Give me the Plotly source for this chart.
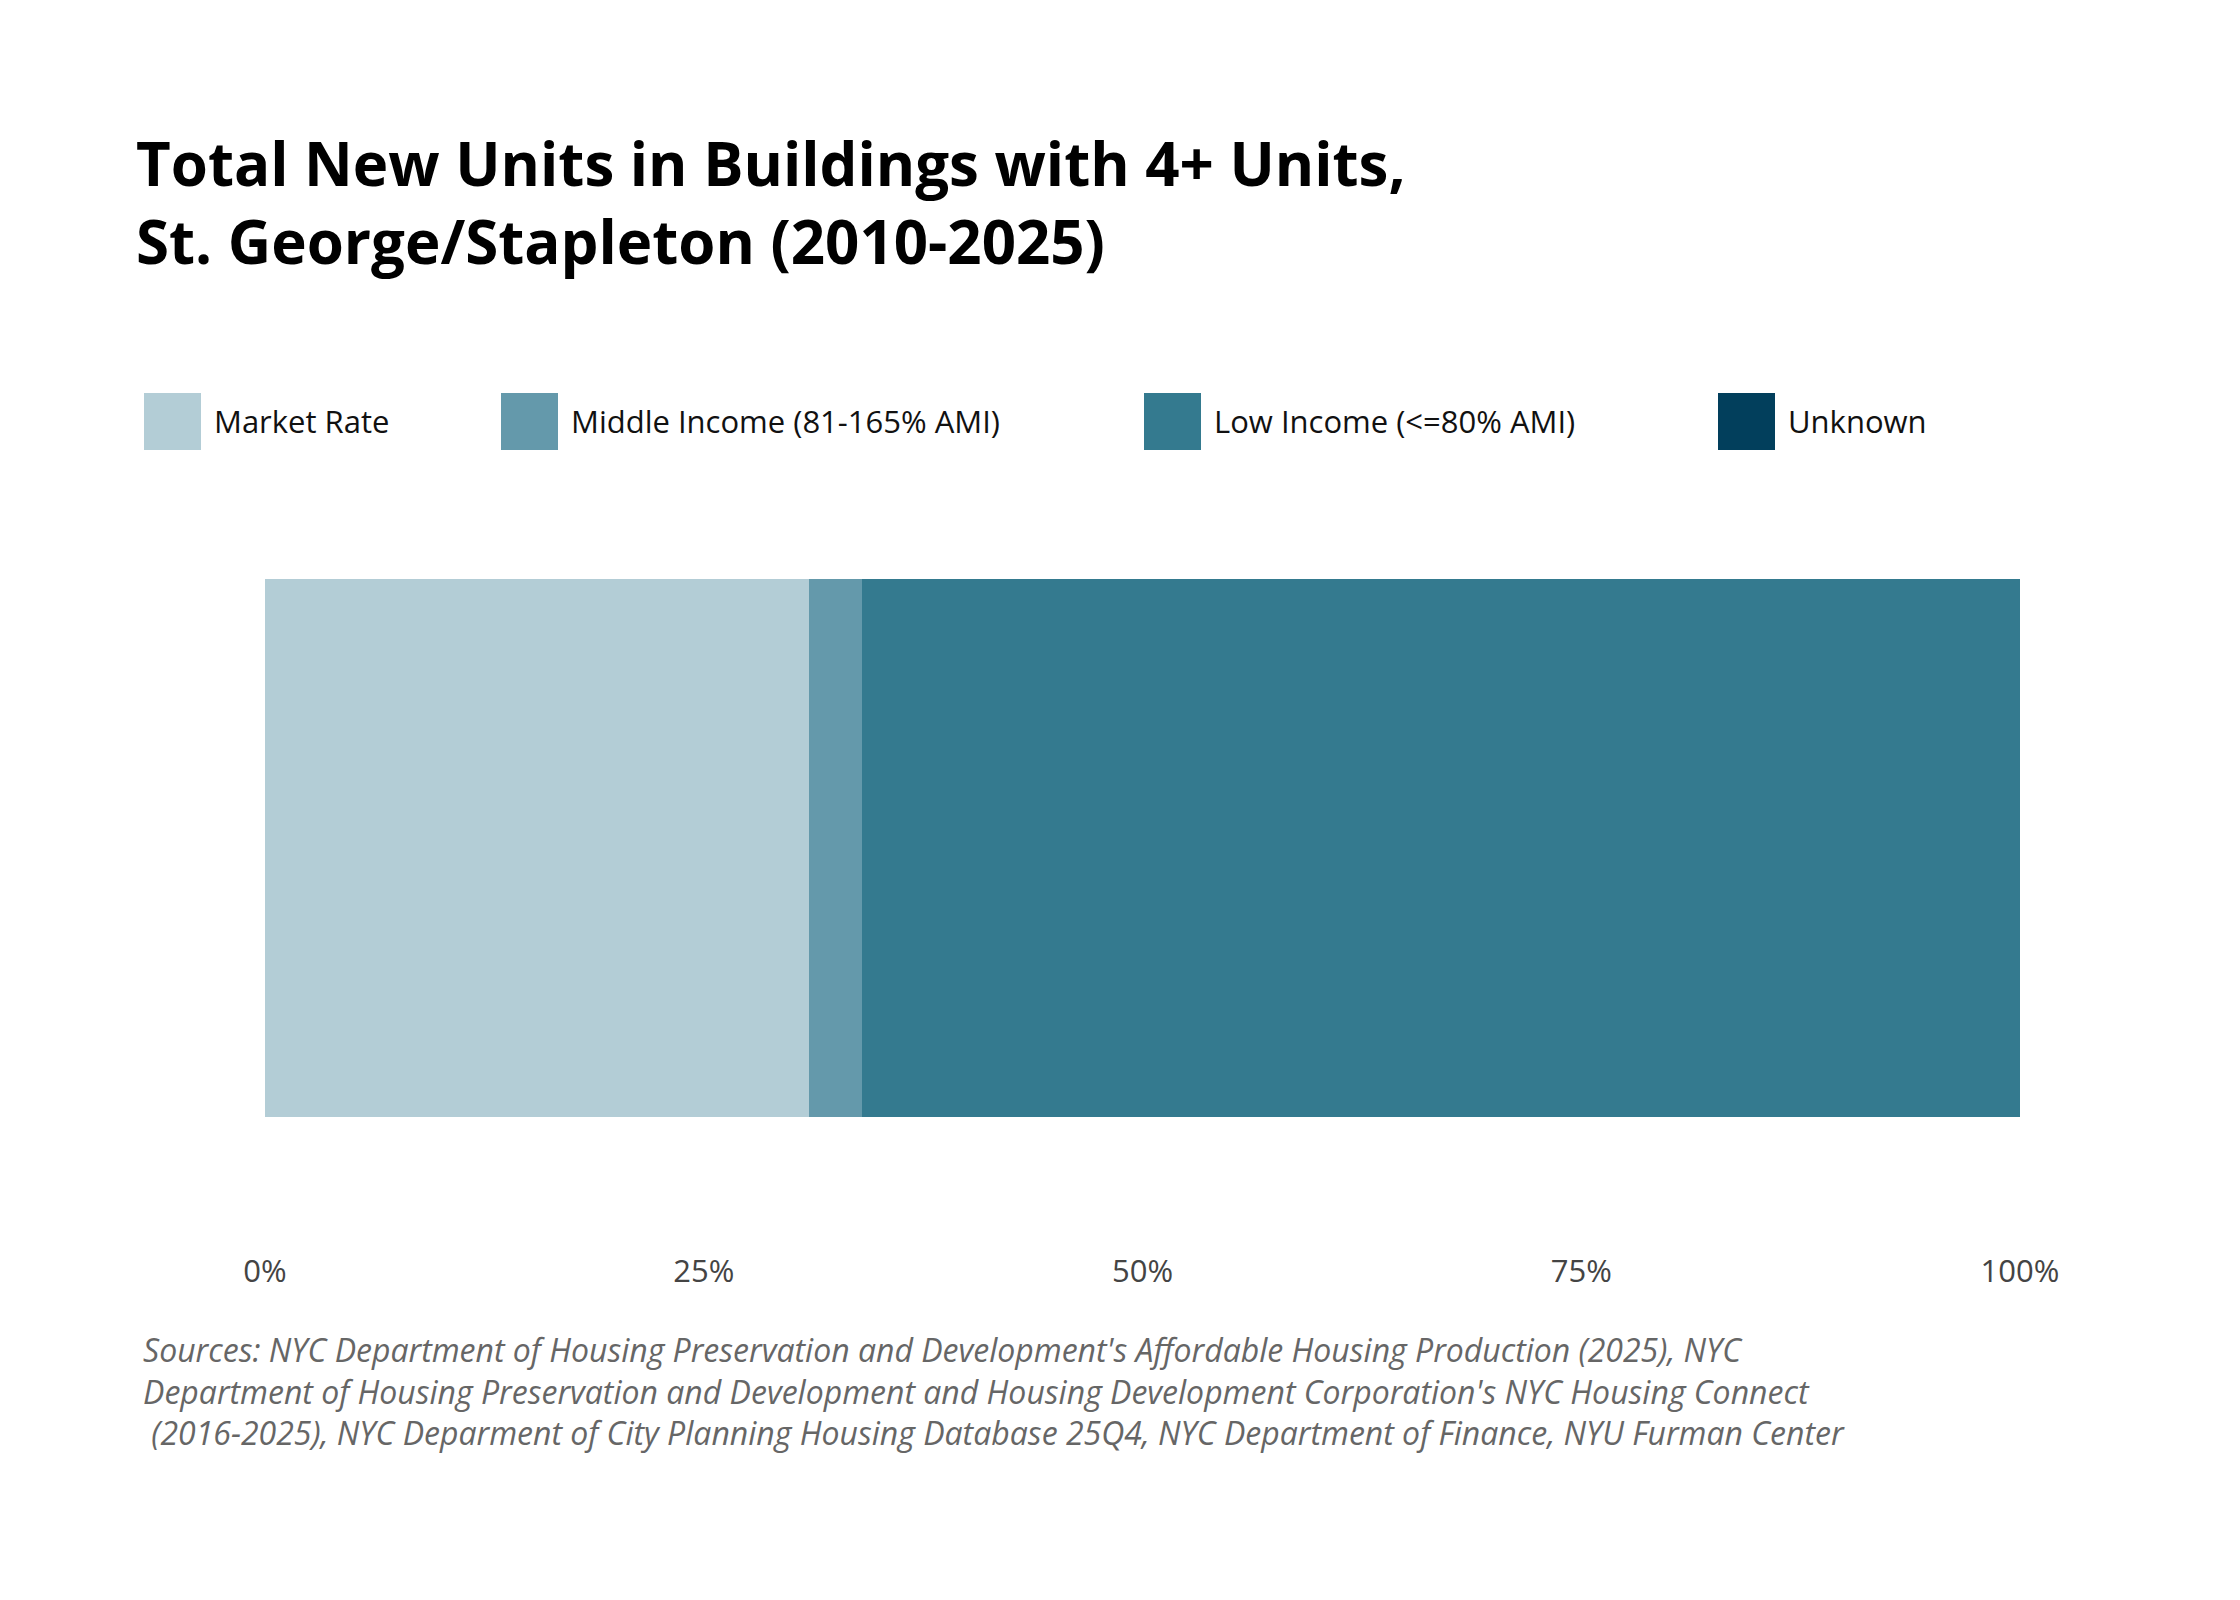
import plotly.graph_objects as go

categories = ["St. George/Stapleton"]
series_names = ["Market Rate", "Middle Income (81-165% AMI)", "Low Income (<=80% AMI)", "Unknown"]
series_values = [31.0, 3.0, 66.0, 0.0]
colors = ["#b3cdd6", "#6499ab", "#347a8f", "#023f5c"]
tick_vals = [0, 25, 50, 75, 100]
tick_text = ["0%", "25%", "50%", "75%", "100%"]

W, H = 2240, 1600
L, R, T, B = 257, 2012, 571, 1109
def xp(px): return (px - L) / (R - L)
def yp(py): return (B - py) / (B - T)

fig = go.Figure()
for name, v, c in zip(series_names, series_values, colors):
    fig.add_trace(go.Bar(y=categories, x=[v], name=name, orientation="h",
                         marker=dict(color=c, line=dict(width=0)), showlegend=False))

shapes, annos = [], []
annos.append(dict(text="<b>Total New Units in Buildings with 4+ Units,<br>St. George/Stapleton (2010-2025)</b>",
                  xref="paper", yref="paper", x=xp(126), y=yp(112), xanchor="left", yanchor="top",
                  showarrow=False, align="left", font=dict(size=60, color="#000", family="Open Sans"),
                  ))
sw_x = [136, 493, 1136, 1710]
for sx, name, c in zip(sw_x, series_names, colors):
    shapes.append(dict(type="rect", xref="paper", yref="paper", x0=xp(sx), x1=xp(sx + 57),
                       y0=yp(385), y1=yp(442), fillcolor=c, line=dict(width=0)))
    annos.append(dict(text=name, xref="paper", yref="paper", x=xp(sx + 68), y=yp(413),
                      xanchor="left", yanchor="middle", showarrow=False,
                      font=dict(size=31, color="#111", family="Open Sans")))
annos.append(dict(text="Sources: NYC Department of Housing Preservation and Development's Affordable Housing Production (2025), NYC<br>"
                       "Department of Housing Preservation and Development and Housing Development Corporation's NYC Housing Connect<br>"
                       " (2016-2025), NYC Deparment of City Planning Housing Database 25Q4, NYC Department of Finance, NYU Furman Center",
                  xref="paper", yref="paper", x=xp(133), y=yp(1318), xanchor="left", yanchor="top",
                  showarrow=False, align="left",
                  font=dict(size=32, color="#666", family="Open Sans", style="italic")))

fig.update_layout(
    width=W, height=H, barmode="stack", bargap=0,
    paper_bgcolor="white", plot_bgcolor="white",
    margin=dict(l=L, r=W - R, t=T, b=H - B, autoexpand=False),
    shapes=shapes, annotations=annos,
    xaxis=dict(range=[0, 100], tickvals=tick_vals, ticktext=tick_text, showgrid=False,
               zeroline=False, showline=False, ticks="", ticklabelstandoff=133,
               tickfont=dict(size=31, color="#444", family="Open Sans")),
    yaxis=dict(showticklabels=False, showgrid=False, zeroline=False, showline=False),
)
fig.write_html("out.html")
